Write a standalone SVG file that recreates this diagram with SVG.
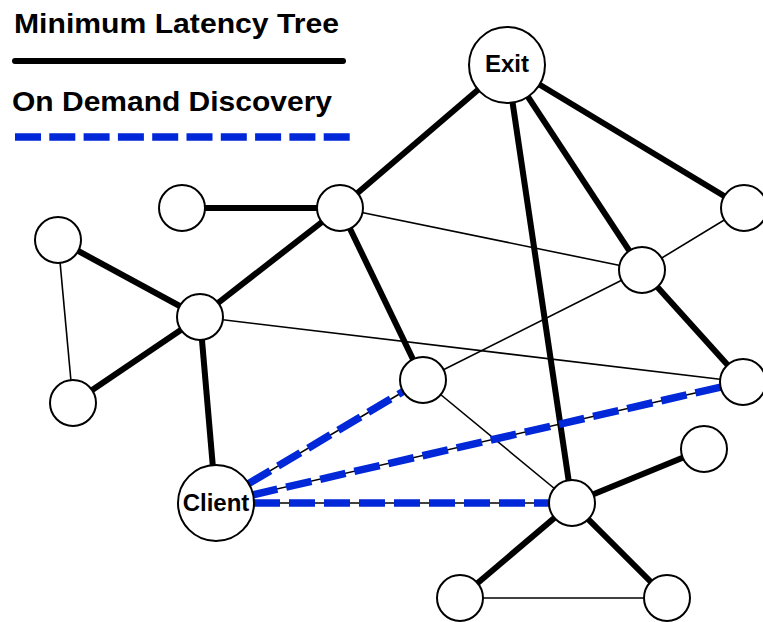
<svg xmlns="http://www.w3.org/2000/svg" width="763" height="622" viewBox="0 0 763 622">
<style>
text{font-family:"Liberation Sans",Arial,Helvetica,sans-serif;font-weight:bold;fill:#000}
.thick{stroke:#000;stroke-width:6;stroke-linecap:butt;fill:none}
.thin{stroke:#000;stroke-width:1.6;fill:none}
.dash{stroke:#0028d8;stroke-width:7.5;stroke-dasharray:26 9;fill:none}
.node{fill:#fff;stroke:#000;stroke-width:2}
</style>
<rect width="763" height="622" fill="#fff"/>
<g id="legend">
<text x="14" y="33" font-size="28" textLength="325" lengthAdjust="spacingAndGlyphs">Minimum Latency Tree</text>
<line x1="15" y1="61" x2="343" y2="61" stroke="#000" stroke-width="6" stroke-linecap="round"/>
<text x="12" y="111" font-size="28" textLength="320" lengthAdjust="spacingAndGlyphs">On Demand Discovery</text>
<line x1="15" y1="137" x2="350" y2="137" stroke="#0028d8" stroke-width="7.5" stroke-dasharray="26 8.3"/>
</g>
<g id="connectors">
<line class="thick" x1="507" y1="65" x2="340" y2="208"/>
<line class="thick" x1="507" y1="65" x2="572" y2="503"/>
<line class="thick" x1="507" y1="65" x2="642" y2="270"/>
<line class="thick" x1="507" y1="65" x2="744" y2="208"/>
<line class="thick" x1="182" y1="208" x2="340" y2="208"/>
<line class="thick" x1="340" y1="208" x2="200" y2="317"/>
<line class="thick" x1="340" y1="208" x2="423" y2="380"/>
<line class="thick" x1="58" y1="240" x2="200" y2="317"/>
<line class="thick" x1="200" y1="317" x2="73" y2="403"/>
<line class="thick" x1="200" y1="317" x2="216" y2="503"/>
<line class="thick" x1="642" y1="270" x2="743" y2="382"/>
<line class="thick" x1="572" y1="503" x2="704" y2="449"/>
<line class="thick" x1="572" y1="503" x2="460" y2="598"/>
<line class="thick" x1="572" y1="503" x2="667" y2="598"/>
<line class="thin" x1="340" y1="208" x2="642" y2="270"/>
<line class="thin" x1="58" y1="240" x2="73" y2="403"/>
<line class="thin" x1="200" y1="317" x2="743" y2="382"/>
<line class="thin" x1="423" y1="380" x2="642" y2="270"/>
<line class="thin" x1="423" y1="380" x2="572" y2="503"/>
<line class="thin" x1="744" y1="208" x2="642" y2="270"/>
<line class="thin" x1="460" y1="598" x2="667" y2="598"/>
<line class="thin" x1="216" y1="503" x2="423" y2="380"/>
<line class="thin" x1="216" y1="503" x2="743" y2="382"/>
<line class="thin" x1="216" y1="503" x2="572" y2="503"/>
<line class="dash" x1="248" y1="484" x2="404" y2="391"/>
<line class="dash" x1="252" y1="495" x2="721" y2="387"/>
<line class="dash" x1="254" y1="503" x2="549" y2="503"/>
</g>
<g id="n-exit"><circle class="node" cx="507" cy="65" r="38"/><text x="507" y="72" font-size="24" text-anchor="middle">Exit</text></g>
<g id="n-a"><circle class="node" cx="182" cy="208" r="23"/></g>
<g id="n-b"><circle class="node" cx="340" cy="208" r="23"/></g>
<g id="n-c"><circle class="node" cx="744" cy="208" r="23"/></g>
<g id="n-d"><circle class="node" cx="642" cy="270" r="23"/></g>
<g id="n-e"><circle class="node" cx="58" cy="240" r="23"/></g>
<g id="n-f"><circle class="node" cx="200" cy="317" r="23"/></g>
<g id="n-g"><circle class="node" cx="73" cy="403" r="23"/></g>
<g id="n-h"><circle class="node" cx="423" cy="380" r="23"/></g>
<g id="n-i"><circle class="node" cx="743" cy="382" r="23"/></g>
<g id="n-client"><circle class="node" cx="216" cy="503" r="38"/><text x="216" y="511" font-size="24" text-anchor="middle">Client</text></g>
<g id="n-j"><circle class="node" cx="572" cy="503" r="23"/></g>
<g id="n-k"><circle class="node" cx="704" cy="449" r="23"/></g>
<g id="n-l"><circle class="node" cx="460" cy="598" r="23"/></g>
<g id="n-m"><circle class="node" cx="667" cy="598" r="23"/></g>
</svg>
